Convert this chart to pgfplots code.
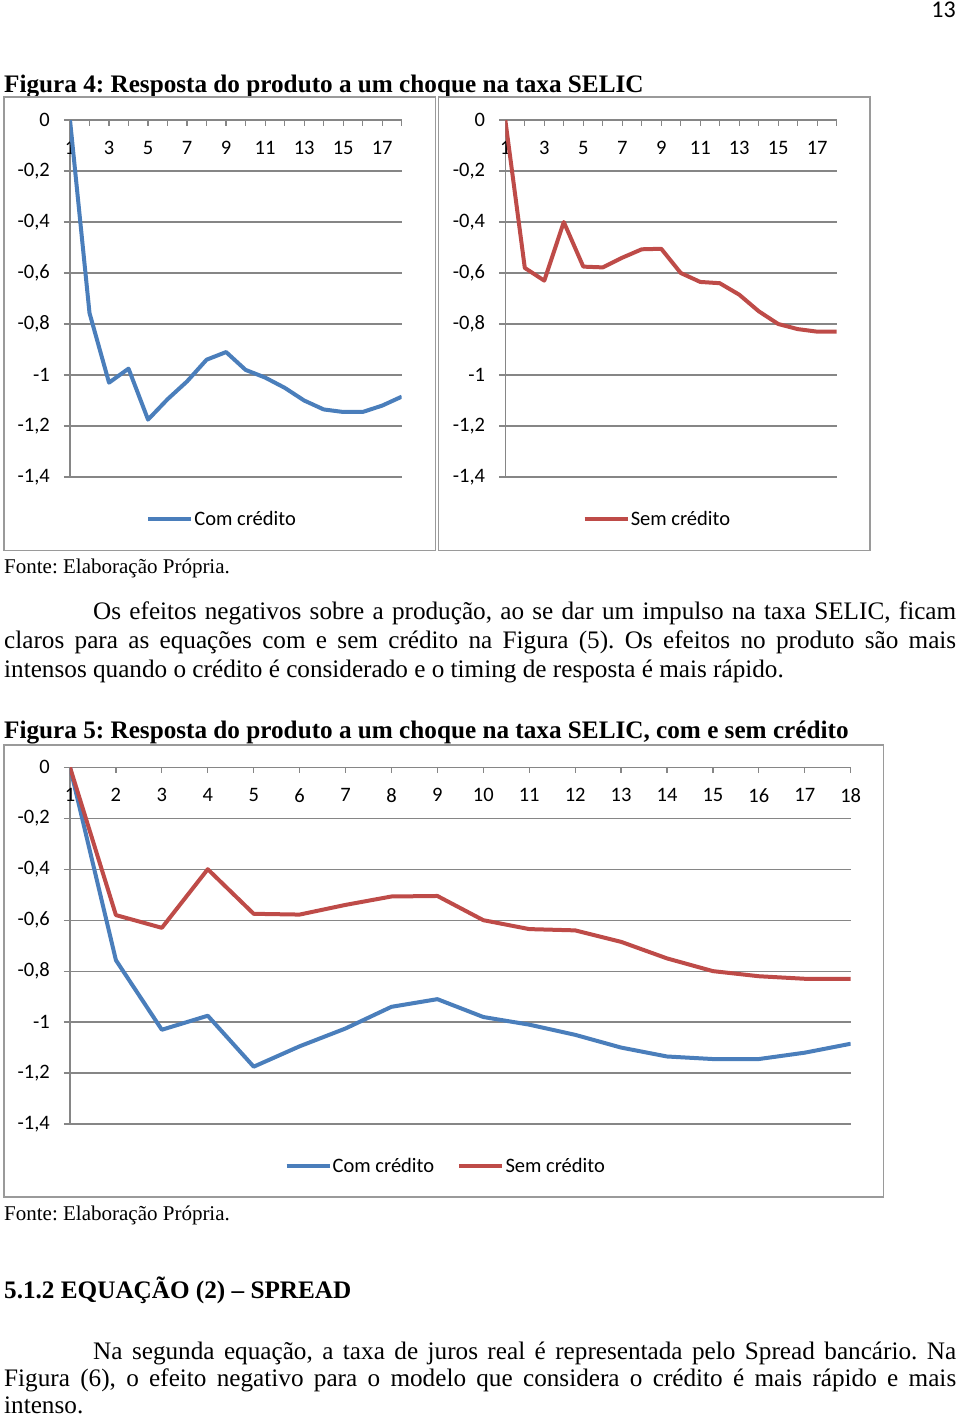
\documentclass[border=0pt]{standalone}
\usepackage{pgfplots}
\pgfplotsset{compat=1.18}
\usepackage{fontspec}
\setmainfont{Liberation Serif}
\newfontfamily\chartfont{Carlito}
\definecolor{exblue}{HTML}{4A7EBB}
\definecolor{exred}{HTML}{BE4B48}
\definecolor{exgray}{HTML}{868686}
\definecolor{frgray}{HTML}{9A9A9A}
\newcommand{\body}{\fontsize{25.2}{29}\selectfont}
\newcommand{\fonte}{\fontsize{21}{25}\selectfont}
\newcommand{\cfont}{\chartfont\fontsize{20.5}{24}\selectfont}
\frenchspacing

\pgfplotsset{excel/.style={
  scale only axis, anchor=south west,
  xmin=1, xmax=18, ymin=-1.4, ymax=0,
  axis x line*=top, axis y line*=left,
  axis line style={exgray, line width=1.2pt},
  tick align=outside,
  major tick length=6pt,
  tick style={exgray, line width=1.2pt},
  every x tick/.append style={yshift=-6pt},
  xtick={1,2,...,18},
  ytick={-1.4,-1.2,-1,-0.8,-0.6,-0.4,-0.2,0},
  yticklabels={{-1,4},{-1,2},{-1},{-0,8},{-0,6},{-0,4},{-0,2},{0}},
  ymajorgrids, grid style={exgray, line width=1.2pt},
  ticklabel style={font=\cfont, inner sep=0pt},
  yticklabel style={anchor=east, xshift=-14pt},
  xticklabel style={anchor=center, yshift=-34pt},
  legend style={draw=none, fill=none, inner sep=0pt, font=\cfont,
     anchor=west, nodes={inner sep=1.2pt}},
  legend image code/.code={\draw[#1] (0pt,0pt) -- (43pt,0pt);},
  every axis plot/.append style={line width=4pt, line join=round, mark=none},
}}

\begin{document}
\begin{tikzpicture}
\useasboundingbox (0,0) rectangle (960pt,-1416pt);

% page number
\node[anchor=base east, inner sep=0pt] at (956pt,-17pt) {\chartfont\fontsize{24}{28}\selectfont 13};

% Figure 4 title
\node[anchor=base west, inner sep=0pt] at (4pt,-92pt) {\body\bfseries Figura 4: Resposta do produto a um choque na taxa SELIC};

% frames
\draw[frgray, line width=1.5pt] (4pt,-97pt) rectangle (435.5pt,-550.5pt);
\draw[frgray, line width=1.5pt] (438.5pt,-97pt) rectangle (870pt,-550.5pt);
\draw[frgray, line width=1.5pt] (4pt,-745pt) rectangle (883.5pt,-1197pt);

% Chart 1
\begin{axis}[excel, at={(70pt,-477pt)}, width=331.7pt, height=357pt,
  xticklabels={1,,3,,5,,7,,9,,11,,13,,15,,17,},
  legend style={at={(rel axis cs:0.229,-0.1176)}}]
\addplot[exblue] coordinates {(1,0) (2,-0.757) (3,-1.03) (4,-0.975) (5,-1.175) (6,-1.095) (7,-1.025) (8,-0.94) (9,-0.91) (10,-0.98) (11,-1.01) (12,-1.05) (13,-1.10) (14,-1.135) (15,-1.145) (16,-1.145) (17,-1.12) (18,-1.085)};
\addlegendentry{Com crédito}
\end{axis}

% Chart 2
\begin{axis}[excel, at={(505.3pt,-477pt)}, width=331.4pt, height=357pt,
  xticklabels={1,,3,,5,,7,,9,,11,,13,,15,,17,},
  legend style={at={(rel axis cs:0.2325,-0.1176)}}]
\addplot[exred] coordinates {(1,0) (2,-0.58) (3,-0.63) (4,-0.40) (5,-0.575) (6,-0.578) (7,-0.54) (8,-0.507) (9,-0.505) (10,-0.60) (11,-0.635) (12,-0.64) (13,-0.685) (14,-0.75) (15,-0.80) (16,-0.82) (17,-0.83) (18,-0.83)};
\addlegendentry{Sem crédito}
\end{axis}

\node[anchor=base west, inner sep=0pt] at (4pt,-573pt) {\fonte Fonte: Elaboração Própria.};

% paragraph 1
\node[anchor=base west, inner sep=0pt] at (93pt,-619pt) {\body\makebox[863pt][s]{Os efeitos negativos sobre a produção, ao se dar um impulso na taxa SELIC, ficam}};
\node[anchor=base west, inner sep=0pt] at (4pt,-648pt) {\body\makebox[952pt][s]{claros para as equações com e sem crédito na Figura (5). Os efeitos no produto são mais}};
\node[anchor=base west, inner sep=0pt] at (4pt,-677pt) {\body intensos quando o crédito é considerado e o timing de resposta é mais rápido.};

% Figure 5 title
\node[anchor=base west, inner sep=0pt] at (4pt,-738pt) {\body\bfseries Figura 5: Resposta do produto a um choque na taxa SELIC, com e sem crédito};

% Chart 3
\begin{axis}[excel, at={(70pt,-1124pt)}, width=780.7pt, height=356.7pt,
  xticklabels={1,2,...,18},
  legend columns=2,
  legend style={at={(rel axis cs:0.2745,-0.1177)},
    /tikz/every even column/.append style={column sep=22pt}}]
\addplot[exblue] coordinates {(1,0) (2,-0.757) (3,-1.03) (4,-0.975) (5,-1.175) (6,-1.095) (7,-1.025) (8,-0.94) (9,-0.91) (10,-0.98) (11,-1.01) (12,-1.05) (13,-1.10) (14,-1.135) (15,-1.145) (16,-1.145) (17,-1.12) (18,-1.085)};
\addlegendentry{Com crédito}
\addplot[exred] coordinates {(1,0) (2,-0.58) (3,-0.63) (4,-0.40) (5,-0.575) (6,-0.578) (7,-0.54) (8,-0.507) (9,-0.505) (10,-0.60) (11,-0.635) (12,-0.64) (13,-0.685) (14,-0.75) (15,-0.80) (16,-0.82) (17,-0.83) (18,-0.83)};
\addlegendentry{Sem crédito}
\end{axis}

\node[anchor=base west, inner sep=0pt] at (4pt,-1220pt) {\fonte Fonte: Elaboração Própria.};

\node[anchor=base west, inner sep=0pt] at (4pt,-1298pt) {\body\bfseries 5.1.2 EQUAÇÃO (2) – SPREAD};

% paragraph 2
\node[anchor=base west, inner sep=0pt] at (93pt,-1359pt) {\body\makebox[863pt][s]{Na segunda equação, a taxa de juros real é representada pelo Spread bancário. Na}};
\node[anchor=base west, inner sep=0pt] at (4pt,-1386pt) {\body\makebox[952pt][s]{Figura (6), o efeito negativo para o modelo que considera o crédito é mais rápido e mais}};
\node[anchor=base west, inner sep=0pt] at (4pt,-1413pt) {\body intenso.};
\end{tikzpicture}
\end{document}
